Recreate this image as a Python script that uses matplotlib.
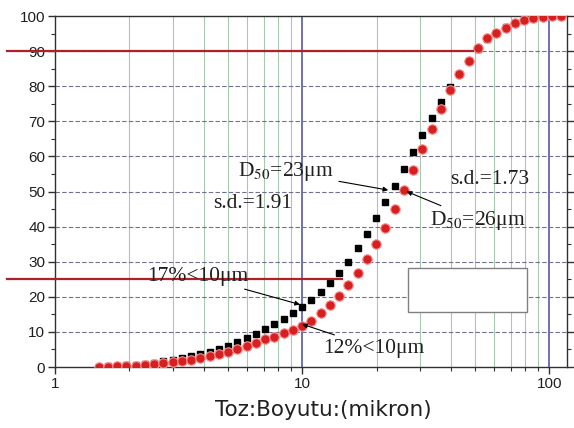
import matplotlib.pyplot as plt
from matplotlib.patches import Rectangle
from matplotlib.ticker import FixedLocator, NullFormatter

plt.rcParams["mathtext.fontset"] = "stix"

# particle size (micron) and cumulative % passing
size_um = [1.500, 1.635, 1.782, 1.943, 2.118, 2.309, 2.517, 2.744, 2.991, 3.261,
           3.553, 3.874, 4.222, 4.603, 5.017, 5.470, 5.962, 6.499, 7.084, 7.723,
           8.418, 9.176, 10.00, 10.90, 11.88, 12.95, 14.12, 15.39, 16.78, 18.29,
           19.94, 21.74, 23.69, 25.83, 28.15, 30.69, 33.45, 36.47, 39.75, 43.33,
           47.23, 51.49, 56.10, 61.16, 66.67, 72.67, 79.21, 86.35, 94.12, 102.6,
           111.8]
black_pct = [0.1, 0.2, 0.3, 0.5, 0.7, 0.9, 1.2, 1.6, 2.0, 2.5,
             3.1, 3.7, 4.4, 5.2, 6.1, 7.1, 8.2, 9.4, 10.7, 12.2,
             13.8, 15.4, 17.1, 19.2, 21.4, 23.9, 26.8, 29.9, 34.0, 37.9,
             42.5, 47.0, 51.7, 56.4, 61.3, 66.1, 71.0, 75.5, 79.8, 83.6,
             87.2, 90.6, 93.4, 95.2, 96.8, 98.1, 98.9, 99.4, 99.8, 100.0,
             100.0]
red_pct = [0.0, 0.1, 0.2, 0.3, 0.4, 0.6, 0.8, 1.0, 1.3, 1.7,
           2.1, 2.6, 3.1, 3.7, 4.4, 5.2, 6.0, 6.9, 7.9, 8.5,
           9.6, 10.6, 11.7, 13.2, 15.3, 17.6, 20.2, 23.3, 26.8, 30.9,
           35.0, 39.5, 45.0, 50.5, 56.0, 62.0, 67.8, 73.5, 78.8, 83.4,
           87.2, 90.8, 93.6, 95.2, 96.7, 98.1, 98.9, 99.4, 99.8, 100.0,
           100.0]

# red reference levels: (y, x where the line stops)
ref_levels = [90, 25]
ref_ends = [49.0, 14.5]

fig = plt.figure(figsize=(5.74, 4.28), dpi=100)
ax = fig.add_axes([0.0958, 0.1425, 0.892, 0.8201])

ax.set_xscale("log")
ax.set_xlim(1, 118)
ax.set_ylim(0, 100)

# grid
minor_x = [m * d for d in (1, 10) for m in range(2, 10)]
for xv in minor_x:
    ax.axvline(xv, color="#a8c8b0", lw=0.8, zorder=0)
for xv in (10, 100):
    ax.axvline(xv, color="#5858a8", lw=1.2, zorder=0)
for yv in range(10, 100, 10):
    ax.axhline(yv, color="#707090", lw=0.8, ls=(0, (4, 2)), zorder=0)

# red reference lines, running out over the tick labels
for lev, xe in zip(ref_levels, ref_ends):
    ax.plot([0.64, xe], [lev, lev], color="#b02028", lw=1.6, clip_on=False, zorder=5)

ax.plot(size_um, black_pct, ls="none", marker="s", ms=4.5, color="black", zorder=3)
ax.plot(size_um, red_pct, ls="none", marker="o", ms=6.8, mfc="#d42020",
        mec="#ff9090", mew=0.8, zorder=4)

arrow = dict(arrowstyle="-|>", color="black", lw=0.8, mutation_scale=7, shrinkA=2, shrinkB=0)
tfont = dict(family="Liberation Serif", size=15.5, color="#202020")
ax.annotate(r"D$_{50}$=23μm", xy=(22.3, 50.4), xytext=(5.5, 55.6),
            va="center", arrowprops=arrow, zorder=6, **tfont)
ax.text(4.36, 46.7, "s.d.=1.91", va="center", zorder=6, **tfont)
ax.text(39.7, 53.3, "s.d.=1.73", va="center", zorder=6, **tfont)
ax.annotate(r"D$_{50}$=26μm", xy=(26.5, 50.0), xytext=(33.0, 41.6),
            va="center", arrowprops=arrow, zorder=6, **tfont)
ax.annotate("17%<10μm", xy=(9.8, 17.8), xytext=(2.36, 25.9),
            va="center", arrowprops=arrow, zorder=6, **tfont)
ax.annotate("12%<10μm", xy=(10.0, 12.2), xytext=(12.2, 5.4),
            va="center", arrowprops=arrow, zorder=6, **tfont)

# empty box
ax.add_patch(Rectangle((0.689, 0.157), 0.232, 0.125, transform=ax.transAxes,
                       fc="white", ec="#808080", lw=1.0, zorder=6))

ax.xaxis.set_major_locator(FixedLocator([1, 10, 100]))
ax.xaxis.set_minor_locator(FixedLocator(minor_x))
ax.xaxis.set_minor_formatter(NullFormatter())
ax.set_xticklabels(["1", "10", "100"])
ax.set_yticks(range(0, 101, 10))
ax.set_yticks(range(5, 100, 10), minor=True)
ax.tick_params(which="both", direction="out", right=True, color="#303030",
               labelsize=11, labelcolor="#202020", pad=2)
ax.tick_params(which="major", length=5, width=1)
ax.tick_params(which="minor", length=3, width=0.8)
for lab in ax.get_xticklabels() + ax.get_yticklabels():
    lab.set_family("Liberation Sans")

for s in ax.spines.values():
    s.set_color("#303030")
    s.set_linewidth(1.0)

ax.set_xlabel("Toz:Boyutu:(mikron)", fontsize=15.5, color="#202020", family="DejaVu Sans")
ax.xaxis.set_label_coords(0.525, -0.095)

fig.savefig("out.png", dpi=100, facecolor="white")
